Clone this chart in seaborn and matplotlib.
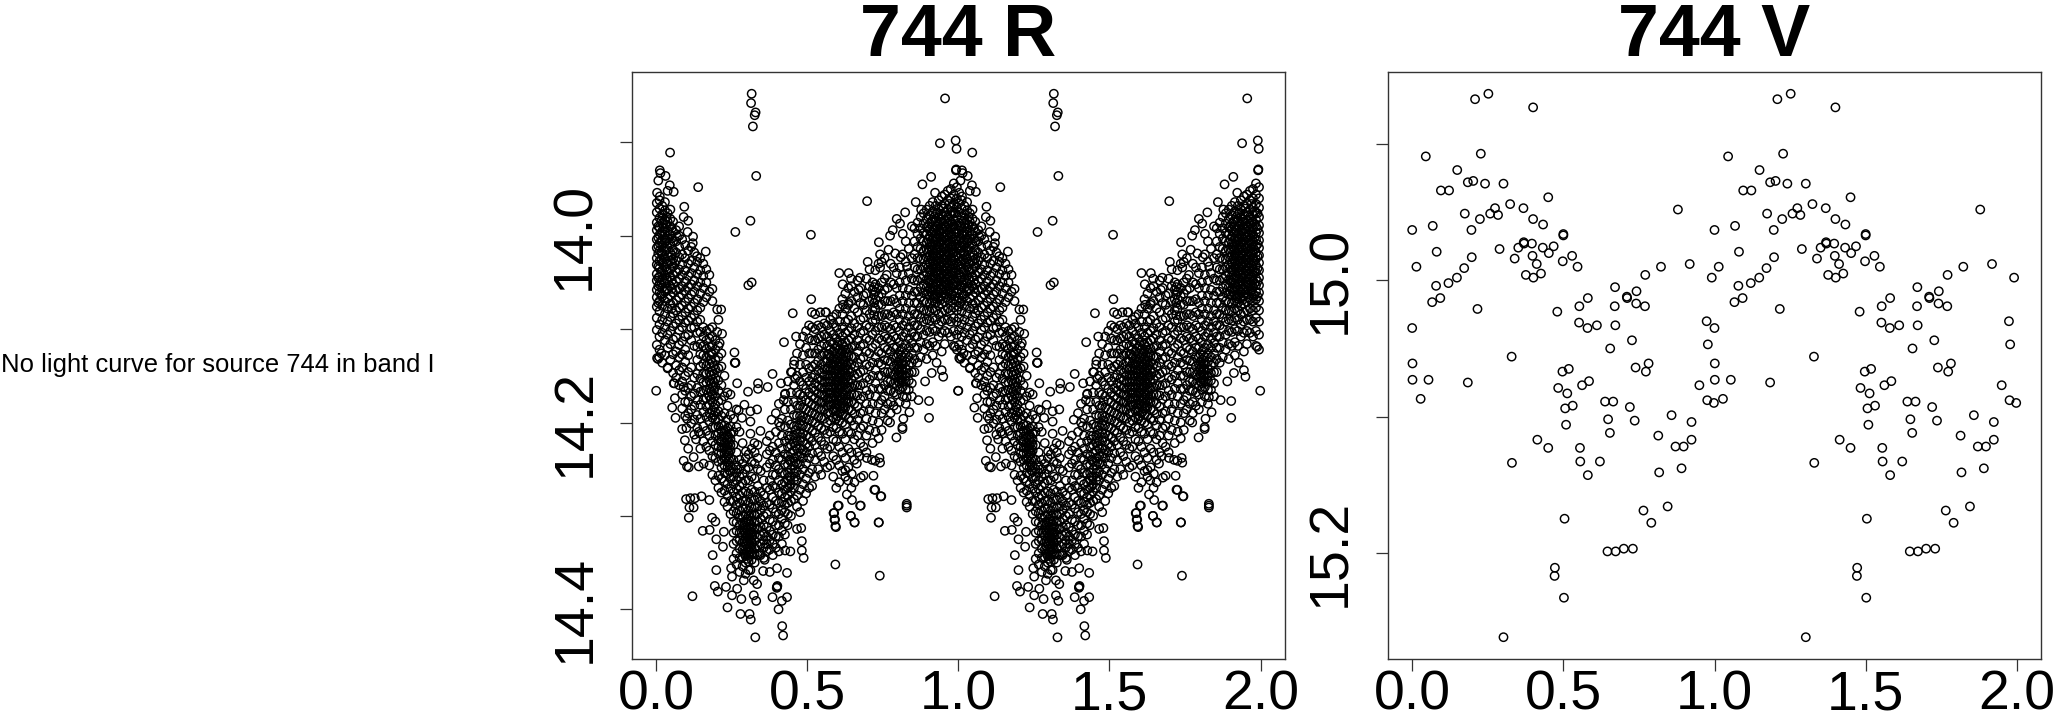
#!/usr/bin/env python3
# -*- coding: utf-8 -*-
"""Folded light curves of source 744, bands R and V, shown over two cycles."""
#%%
import numpy as np
import pandas as pd
import seaborn as sns
import matplotlib.pyplot as plt

sns.set_style("white")
plt.rcParams["font.family"] = ["Liberation Sans", "DejaVu Sans"]
plt.rcParams["text.color"] = "black"
plt.rcParams["xtick.color"] = "black"
plt.rcParams["ytick.color"] = "black"
plt.rcParams["axes.labelcolor"] = "black"

#%% V band, read point by point
v_phase = [
    .208, .252, .400, .045, .227, .149, .184, .202, .241, .302, .095, .122, .450, .324, .368, .274,
    .258, .284, .174, .879, .400, .224, .433, .068, .000, .196, .500, .500, .369, .370, .396, .351,
    .289, .432, .468, .081, .452, .398, .529, .197, .339, .498, .412, .918, .014, .547, .823, .172,
    .426, .376, .771, .148, .401, .991, .120, .079, .671, .742, .581, .093, .710, .711, .741, .066,
    .553, .670, .770, .216, .480, .552, .974, .580, .611, .672, .000, .727, .978, .655, .329, .001,
    .782, .739, .773, .497, .518, .001, .054, .184, .585, .562, .950, .483, .513, .028, .638, .665,
    .976, .998, .531, .506, .720, .858, .648, .736, .924, .509, .654, .814, .924, .414, .450, .555,
    .871, .898, .556, .621, .330, .891, .581, .817, .845, .765, .504, .791, .730, .700, .673, .646,
    .472, .471, .502, .302,
]
v_mag = [
    14.867, 14.863, 14.873, 14.909, 14.907, 14.919, 14.928, 14.927, 14.929, 14.929, 14.934, 14.934,
    14.939, 14.944, 14.947, 14.947, 14.951, 14.952, 14.951, 14.948, 14.955, 14.955, 14.959, 14.960,
    14.963, 14.963, 14.966, 14.967, 14.972, 14.973, 14.973, 14.976, 14.977, 14.976, 14.975, 14.979,
    14.980, 14.982, 14.982, 14.983, 14.984, 14.986, 14.988, 14.988, 14.990, 14.990, 14.990, 14.991,
    14.995, 14.996, 14.996, 14.998, 14.998, 14.998, 15.002, 15.004, 15.005, 15.008, 15.013, 15.013,
    15.012, 15.013, 15.017, 15.016, 15.019, 15.019, 15.019, 15.021, 15.023, 15.031, 15.030, 15.035,
    15.033, 15.033, 15.035, 15.044, 15.047, 15.050, 15.056, 15.061, 15.061, 15.064, 15.067, 15.067,
    15.065, 15.073, 15.073, 15.075, 15.074, 15.077, 15.077, 15.079, 15.083, 15.087, 15.089, 15.089,
    15.088, 15.090, 15.092, 15.094, 15.093, 15.099, 15.102, 15.103, 15.104, 15.106, 15.112, 15.114,
    15.117, 15.117, 15.123, 15.123, 15.122, 15.122, 15.133, 15.133, 15.134, 15.138, 15.143, 15.141,
    15.166, 15.169, 15.175, 15.178, 15.197, 15.197, 15.199, 15.199, 15.211, 15.217, 15.233, 15.262,
]

#%% R band, isolated points read one by one
r_phase = [
    .316, .314, .329, .326, .320, .331, .312, .262, .512, .316, .305, .956, .939, .991, .994, .992,
    .993, .046, .139, .014, .031, .007, .012, .045, .038, .058, .003, .012, .093, .091, .106, .076,
    .104, .122, .121, .069, .164, .186, .135, .202, .215, .206, .218, .202, .210, .452, .513, .515,
    .526, .543, .562, .585, .463, .423, .259, .260, .262, .698, .910, .881, .923, .859, .877, .824,
    .796, .807, .783, .774, .816, .846, .737, .700, .741, .769, .791, .809, .606, .637, .617, .645,
    .675, .741, .618, .637, .670, .686, .725, .763, .830, .560, .950, .999, .928, .912, .945, .890,
    .903, .903, .868, .838, .818, .815, .815, .795, .774, .736, .829, .739, .741, .725, .714, .697,
    .673, .664, .719, .686, .677, .647, .635, .626, .725, .745, .675, .648, .631, .604, .644, .589,
    .590, .595, .657, .736, .829, .829, .593, .740, .120, .000, .006, .058, .091, .062, .053, .086,
    .064, .102, .086, .100, .141, .095, .132, .106, .146, .124, .091, .102, .141, .157, .108, .099,
    .113, .128, .150, .110, .124, .176, .108, .185, .196, .154, .177, .224, .199, .221, .187, .199,
    .194, .204, .231, .251, .268, .236, .282, .279, .309, .313, .328, .417, .420, .405, .416, .433,
    .385, .331, .323, .334, .400, .401, .399, .251, .248, .290, .323, .312, .354, .376, .400, .433,
    .488, .482, .482, .444, .427, .359, .345, .466, .480, .435, .593, .592, .587, .601, .644, .656,
    .737, .677, .829, .722, .743, .413, .385, .449, .457, .460, .337, .369, .268, .262, .304, .337,
    .427, .422, .382, .411, .345, .312, .325, .292, .334, .312, .312, .273, .284, .297, .017, .003,
    .989, .010, .038, .060,
]
r_mag = [
    13.848, 13.858, 13.868, 13.871, 13.883, 13.936, 13.984, 13.996, 13.999, 14.050, 14.053, 13.853,
    13.901, 13.898, 13.907, 13.930, 13.929, 13.911, 13.948, 13.933, 13.936, 13.941, 13.930, 13.946,
    13.952, 13.953, 13.954, 13.958, 13.969, 13.980, 13.984, 13.990, 13.996, 14.001, 14.008, 14.001,
    14.017, 14.057, 14.022, 14.079, 14.079, 14.090, 14.105, 14.103, 14.115, 14.083, 14.068, 14.082,
    14.084, 14.082, 14.082, 14.087, 14.108, 14.114, 14.125, 14.136, 14.136, 13.963, 13.937, 13.945,
    13.954, 13.964, 13.972, 13.975, 13.982, 13.987, 13.994, 14.000, 13.998, 13.990, 14.007, 14.028,
    14.020, 14.015, 14.019, 14.023, 14.040, 14.040, 14.052, 14.046, 14.045, 14.034, 14.074, 14.072,
    14.058, 14.064, 14.037, 14.042, 14.033, 14.082, 14.151, 14.166, 14.136, 14.147, 14.144, 14.156,
    14.177, 14.195, 14.176, 14.189, 14.196, 14.205, 14.207, 14.216, 14.200, 14.217, 14.173, 14.238,
    14.243, 14.241, 14.240, 14.238, 14.236, 14.244, 14.257, 14.257, 14.259, 14.255, 14.262, 14.251,
    14.272, 14.279, 14.289, 14.283, 14.277, 14.289, 14.300, 14.297, 14.304, 14.312, 14.307, 14.307,
    14.289, 14.291, 14.352, 14.364, 14.386, 14.166, 14.132, 14.158, 14.162, 14.174, 14.184, 14.185,
    14.195, 14.196, 14.207, 14.206, 14.210, 14.219, 14.218, 14.228, 14.228, 14.237, 14.241, 14.247,
    14.247, 14.244, 14.248, 14.282, 14.281, 14.281, 14.279, 14.291, 14.291, 14.283, 14.302, 14.302,
    14.306, 14.316, 14.315, 14.317, 14.325, 14.333, 14.342, 14.358, 14.375, 14.381, 14.376, 14.385,
    14.378, 14.398, 14.389, 14.405, 14.405, 14.411, 14.430, 14.418, 14.428, 14.400, 14.391, 14.387,
    14.387, 14.391, 14.385, 14.373, 14.376, 14.375, 14.377, 14.365, 14.356, 14.369, 14.369, 14.358,
    14.359, 14.360, 14.356, 14.361, 14.345, 14.337, 14.327, 14.338, 14.337, 14.347, 14.342, 14.314,
    14.313, 14.310, 14.311, 14.304, 14.297, 14.289, 14.300, 14.307, 14.307, 14.289, 14.287, 14.272,
    14.279, 14.158, 14.148, 14.146, 14.134, 14.153, 14.158, 14.162, 14.158, 14.136, 14.167, 14.164,
    14.169, 14.176, 14.197, 14.204, 14.209, 14.212, 14.222, 14.181, 14.186, 14.188, 14.199, 14.187,
    14.195, 14.231, 14.126, 14.131, 14.119, 14.130, 14.142, 14.158,
]

#%% R band, crowded areas: rings estimated by eye, phase -> magnitudes
r_rise_band = {  # phase 0 to 0.1
    .002: [13.965, 13.975, 13.986, 13.994, 14.004, 14.013, 14.024, 14.031, 14.041, 14.048, 14.058, 14.066, 14.076, 14.088, 14.101, 14.117],
    .011: [13.962, 13.971, 13.981, 13.991, 13.999, 14.008, 14.016, 14.027, 14.035, 14.044, 14.052, 14.061, 14.07, 14.081, 14.095, 14.108, 14.122],
    .02: [13.968, 13.977, 13.987, 13.995, 14.004, 14.011, 14.021, 14.029, 14.037, 14.047, 14.056, 14.065, 14.075, 14.09, 14.104, 14.136],
    .029: [13.964, 13.973, 13.983, 13.992, 13.999, 14.007, 14.017, 14.025, 14.034, 14.042, 14.051, 14.06, 14.07, 14.084, 14.098, 14.112, 14.128],
    .038: [13.976, 13.985, 13.995, 14.003, 14.012, 14.022, 14.03, 14.039, 14.048, 14.057, 14.067, 14.078, 14.092, 14.106, 14.12, 14.141],
    .047: [13.972, 13.982, 13.99, 13.999, 14.009, 14.018, 14.027, 14.036, 14.044, 14.054, 14.064, 14.073, 14.087, 14.102, 14.116, 14.133],
    .056: [13.985, 13.996, 14.006, 14.015, 14.025, 14.033, 14.042, 14.052, 14.061, 14.072, 14.083, 14.097, 14.111, 14.127, 14.147],
    .066: [13.994, 14.006, 14.018, 14.027, 14.039, 14.049, 14.058, 14.069, 14.08, 14.094, 14.109, 14.124, 14.139, 14.152],
    .076: [14.0, 14.012, 14.023, 14.036, 14.046, 14.057, 14.066, 14.077, 14.09, 14.101, 14.117, 14.13, 14.144, 14.16],
    .086: [14.004, 14.02, 14.031, 14.042, 14.054, 14.063, 14.075, 14.086, 14.098, 14.113, 14.127, 14.141, 14.156, 14.17],
    .096: [14.01, 14.024, 14.037, 14.049, 14.059, 14.071, 14.082, 14.093, 14.108, 14.122, 14.135, 14.15, 14.166, 14.178, 14.193],
}
r_stripe_b = {  # phase 0.1 to 0.24
    .106: [14.016, 14.03, 14.043, 14.055, 14.067, 14.078, 14.091, 14.106, 14.128, 14.146, 14.163, 14.178, 14.19],
    .116: [14.012, 14.027, 14.04, 14.052, 14.063, 14.076, 14.088, 14.099, 14.112, 14.141, 14.16, 14.172, 14.186, 14.201],
    .126: [14.018, 14.034, 14.048, 14.06, 14.072, 14.085, 14.098, 14.118, 14.152, 14.169, 14.182, 14.197, 14.213],
    .136: [14.028, 14.041, 14.054, 14.068, 14.08, 14.092, 14.104, 14.119, 14.133, 14.148, 14.163, 14.176, 14.192, 14.206],
    .146: [14.024, 14.037, 14.05, 14.062, 14.077, 14.09, 14.103, 14.116, 14.127, 14.14, 14.153, 14.167, 14.181, 14.196, 14.212],
    .156: [14.03, 14.043, 14.056, 14.071, 14.098, 14.108, 14.118, 14.128, 14.137, 14.147, 14.157, 14.166, 14.176, 14.189, 14.204, 14.22],
    .166: [14.036, 14.05, 14.066, 14.102, 14.112, 14.121, 14.13, 14.139, 14.148, 14.157, 14.165, 14.174, 14.183, 14.194, 14.209, 14.226],
    .176: [14.042, 14.06, 14.1, 14.11, 14.119, 14.128, 14.137, 14.146, 14.155, 14.164, 14.172, 14.181, 14.19, 14.199, 14.214, 14.23, 14.246],
    .186: [14.07, 14.098, 14.108, 14.118, 14.127, 14.136, 14.145, 14.154, 14.162, 14.17, 14.178, 14.187, 14.195, 14.205, 14.22, 14.236, 14.256],
    .196: [14.112, 14.122, 14.133, 14.143, 14.153, 14.162, 14.172, 14.181, 14.189, 14.197, 14.205, 14.214, 14.224, 14.238, 14.262],
    .206: [14.118, 14.13, 14.142, 14.155, 14.166, 14.177, 14.188, 14.197, 14.204, 14.211, 14.219, 14.226, 14.233, 14.242, 14.257, 14.27],
    .216: [14.126, 14.14, 14.16, 14.176, 14.193, 14.202, 14.209, 14.215, 14.221, 14.227, 14.233, 14.24, 14.248, 14.26, 14.275],
    .226: [14.15, 14.172, 14.19, 14.203, 14.21, 14.216, 14.222, 14.227, 14.233, 14.239, 14.246, 14.254, 14.263, 14.273, 14.285],
    .236: [14.168, 14.182, 14.197, 14.206, 14.213, 14.218, 14.224, 14.229, 14.235, 14.242, 14.248, 14.255, 14.266, 14.278, 14.29],
    .246: [14.17, 14.192, 14.204, 14.212, 14.218, 14.224, 14.23, 14.238, 14.246, 14.253, 14.26, 14.271, 14.284, 14.298],
}
r_dip_d = {  # phase 0.25 to 0.42
    .256: [14.196, 14.21, 14.224, 14.24, 14.25, 14.258, 14.266, 14.275, 14.284, 14.295, 14.306, 14.318, 14.33, 14.346],
    .266: [14.186, 14.205, 14.232, 14.246, 14.254, 14.262, 14.271, 14.28, 14.288, 14.297, 14.307, 14.316, 14.327, 14.34, 14.352],
    .276: [14.21, 14.24, 14.25, 14.258, 14.268, 14.278, 14.286, 14.294, 14.302, 14.31, 14.318, 14.326, 14.335, 14.345, 14.36],
    .286: [14.222, 14.244, 14.255, 14.265, 14.275, 14.284, 14.292, 14.3, 14.307, 14.314, 14.321, 14.328, 14.336, 14.344, 14.354],
    .296: [14.238, 14.25, 14.262, 14.274, 14.284, 14.292, 14.299, 14.306, 14.312, 14.318, 14.324, 14.33, 14.336, 14.343, 14.35, 14.362],
    .306: [14.234, 14.248, 14.262, 14.276, 14.286, 14.294, 14.3, 14.306, 14.312, 14.318, 14.324, 14.33, 14.336, 14.342, 14.349, 14.358],
    .316: [14.228, 14.242, 14.258, 14.272, 14.282, 14.291, 14.298, 14.305, 14.311, 14.317, 14.323, 14.329, 14.335, 14.341, 14.347],
    .326: [14.232, 14.244, 14.26, 14.274, 14.283, 14.291, 14.299, 14.306, 14.313, 14.32, 14.327, 14.334, 14.341, 14.35],
    .336: [14.224, 14.238, 14.25, 14.268, 14.28, 14.29, 14.298, 14.306, 14.314, 14.323, 14.332, 14.342],
    .346: [14.252, 14.274, 14.284, 14.294, 14.303, 14.312, 14.321, 14.33, 14.34],
    .356: [14.262, 14.278, 14.289, 14.3, 14.31, 14.318, 14.326, 14.334, 14.345],
    .366: [14.22, 14.234, 14.248, 14.27, 14.286, 14.298, 14.312, 14.322, 14.33, 14.338],
    .376: [14.214, 14.23, 14.244, 14.262, 14.272, 14.288, 14.304, 14.316, 14.326, 14.336],
    .386: [14.226, 14.24, 14.256, 14.268, 14.28, 14.292, 14.306, 14.32, 14.33, 14.342],
    .396: [14.19, 14.21, 14.232, 14.246, 14.256, 14.27, 14.284, 14.296, 14.31, 14.322, 14.334],
    .406: [14.18, 14.2, 14.222, 14.238, 14.25, 14.262, 14.275, 14.286, 14.298, 14.31, 14.322, 14.338],
    .416: [14.196, 14.214, 14.228, 14.24, 14.254, 14.266, 14.276, 14.285, 14.294, 14.303, 14.316, 14.33],
}
r_stripe_e = {  # phase 0.42 to 0.7
    .426: [14.17, 14.186, 14.204, 14.22, 14.234, 14.245, 14.255, 14.264, 14.272, 14.28, 14.288, 14.296, 14.308, 14.32],
    .436: [14.156, 14.178, 14.198, 14.214, 14.226, 14.236, 14.245, 14.254, 14.262, 14.27, 14.278, 14.286, 14.298],
    .446: [14.146, 14.168, 14.186, 14.202, 14.214, 14.224, 14.233, 14.242, 14.25, 14.258, 14.266, 14.274, 14.284, 14.3],
    .456: [14.138, 14.16, 14.178, 14.192, 14.204, 14.214, 14.222, 14.23, 14.238, 14.246, 14.254, 14.262, 14.27, 14.282],
    .466: [14.126, 14.15, 14.168, 14.182, 14.193, 14.203, 14.212, 14.22, 14.228, 14.236, 14.244, 14.252, 14.262, 14.278, 14.29],
    .476: [14.116, 14.138, 14.156, 14.17, 14.182, 14.193, 14.203, 14.212, 14.22, 14.228, 14.236, 14.245, 14.256, 14.272, 14.296],
    .486: [14.108, 14.128, 14.146, 14.16, 14.172, 14.184, 14.194, 14.203, 14.212, 14.22, 14.229, 14.238, 14.25, 14.266, 14.284],
    .496: [14.102, 14.12, 14.138, 14.152, 14.164, 14.176, 14.186, 14.196, 14.205, 14.214, 14.223, 14.232, 14.244, 14.26, 14.276],
    .506: [14.096, 14.11, 14.126, 14.142, 14.156, 14.168, 14.178, 14.188, 14.197, 14.206, 14.216, 14.226, 14.238, 14.254, 14.27],
    .516: [14.098, 14.112, 14.126, 14.14, 14.152, 14.163, 14.172, 14.181, 14.19, 14.199, 14.209, 14.22, 14.233, 14.25, 14.268],
    .526: [14.1, 14.112, 14.126, 14.138, 14.149, 14.158, 14.166, 14.174, 14.182, 14.191, 14.2, 14.211, 14.224, 14.24, 14.258],
    .536: [14.096, 14.11, 14.122, 14.134, 14.144, 14.153, 14.161, 14.169, 14.177, 14.185, 14.194, 14.204, 14.216, 14.232, 14.25],
    .546: [14.098, 14.108, 14.118, 14.128, 14.138, 14.147, 14.155, 14.163, 14.17, 14.178, 14.186, 14.195, 14.206, 14.22, 14.236, 14.256],
    .556: [14.094, 14.106, 14.116, 14.126, 14.135, 14.143, 14.15, 14.157, 14.164, 14.171, 14.178, 14.186, 14.196, 14.208, 14.224, 14.242],
    .566: [14.096, 14.108, 14.118, 14.127, 14.135, 14.142, 14.149, 14.156, 14.162, 14.168, 14.175, 14.182, 14.19, 14.2, 14.212, 14.228, 14.248],
    .576: [14.09, 14.102, 14.113, 14.122, 14.13, 14.137, 14.144, 14.15, 14.156, 14.162, 14.168, 14.174, 14.181, 14.189, 14.198, 14.21, 14.226, 14.246],
    .586: [14.094, 14.106, 14.116, 14.124, 14.131, 14.138, 14.144, 14.15, 14.156, 14.162, 14.168, 14.174, 14.18, 14.187, 14.195, 14.205, 14.218, 14.236, 14.258],
    .596: [14.084, 14.098, 14.11, 14.119, 14.126, 14.133, 14.139, 14.145, 14.151, 14.157, 14.163, 14.169, 14.175, 14.181, 14.188, 14.196, 14.206, 14.22, 14.24, 14.27],
    .606: [14.078, 14.092, 14.104, 14.114, 14.122, 14.129, 14.135, 14.141, 14.147, 14.153, 14.159, 14.165, 14.171, 14.177, 14.183, 14.19, 14.198, 14.21, 14.226, 14.246, 14.264],
    .616: [14.068, 14.084, 14.098, 14.108, 14.116, 14.124, 14.131, 14.137, 14.143, 14.149, 14.155, 14.161, 14.167, 14.173, 14.179, 14.185, 14.192, 14.2, 14.212, 14.232, 14.252],
    .626: [14.062, 14.078, 14.092, 14.104, 14.114, 14.122, 14.129, 14.135, 14.141, 14.147, 14.153, 14.159, 14.165, 14.171, 14.177, 14.184, 14.192, 14.202, 14.218, 14.238, 14.258],
    .636: [14.056, 14.074, 14.09, 14.102, 14.112, 14.121, 14.129, 14.136, 14.143, 14.15, 14.157, 14.164, 14.171, 14.178, 14.186, 14.196, 14.21, 14.228, 14.248],
    .646: [14.054, 14.07, 14.086, 14.099, 14.11, 14.12, 14.129, 14.138, 14.146, 14.154, 14.162, 14.17, 14.178, 14.187, 14.198, 14.212, 14.232, 14.27],
    .656: [14.06, 14.078, 14.094, 14.106, 14.118, 14.13, 14.14, 14.15, 14.16, 14.17, 14.18, 14.191, 14.203, 14.218, 14.24, 14.264],
    .666: [14.048, 14.066, 14.082, 14.098, 14.112, 14.124, 14.136, 14.148, 14.16, 14.171, 14.183, 14.197, 14.214, 14.232],
    .676: [14.056, 14.072, 14.09, 14.104, 14.118, 14.132, 14.146, 14.16, 14.175, 14.19, 14.206, 14.222],
    .686: [14.074, 14.088, 14.102, 14.116, 14.13, 14.144, 14.158, 14.172, 14.188, 14.204, 14.226],
    .696: [14.046, 14.062, 14.08, 14.096, 14.11, 14.124, 14.138, 14.152, 14.166, 14.18, 14.196, 14.214, 14.232],
}
r_hump_f = {  # phase 0.7 to 0.85
    .706: [14.036, 14.054, 14.07, 14.084, 14.098, 14.112, 14.126, 14.14, 14.154, 14.17, 14.186, 14.208],
    .716: [14.05, 14.058, 14.068, 14.08, 14.092, 14.106, 14.12, 14.136, 14.15, 14.164, 14.18, 14.198, 14.222],
    .726: [14.052, 14.06, 14.068, 14.078, 14.09, 14.102, 14.116, 14.13, 14.144, 14.158, 14.172, 14.19, 14.21],
    .736: [14.03, 14.056, 14.065, 14.074, 14.086, 14.098, 14.11, 14.124, 14.136, 14.15, 14.164, 14.18, 14.2],
    .746: [14.028, 14.05, 14.062, 14.074, 14.086, 14.098, 14.112, 14.126, 14.138, 14.15, 14.164, 14.176, 14.19, 14.208],
    .756: [14.024, 14.046, 14.058, 14.07, 14.084, 14.096, 14.108, 14.12, 14.133, 14.146, 14.16, 14.172, 14.186],
    .766: [14.056, 14.07, 14.084, 14.098, 14.11, 14.122, 14.134, 14.146, 14.156, 14.166, 14.18, 14.198],
    .776: [14.03, 14.05, 14.07, 14.086, 14.1, 14.112, 14.124, 14.135, 14.146, 14.156, 14.166, 14.178, 14.19],
    .786: [14.034, 14.052, 14.068, 14.082, 14.096, 14.108, 14.12, 14.13, 14.14, 14.149, 14.158, 14.168, 14.182],
    .796: [14.04, 14.056, 14.072, 14.084, 14.098, 14.11, 14.12, 14.13, 14.138, 14.145, 14.152, 14.16, 14.17, 14.186],
    .806: [14.034, 14.05, 14.064, 14.078, 14.09, 14.102, 14.114, 14.124, 14.133, 14.14, 14.146, 14.152, 14.158, 14.165, 14.178],
    .816: [14.02, 14.042, 14.056, 14.07, 14.084, 14.096, 14.108, 14.12, 14.13, 14.138, 14.144, 14.15, 14.156, 14.162, 14.172],
    .826: [14.006, 14.028, 14.048, 14.064, 14.078, 14.092, 14.104, 14.116, 14.126, 14.135, 14.143, 14.15, 14.156, 14.165, 14.18],
    .836: [14.014, 14.04, 14.058, 14.072, 14.086, 14.098, 14.11, 14.12, 14.13, 14.139, 14.147, 14.155, 14.165],
    .846: [14.024, 14.046, 14.064, 14.08, 14.092, 14.104, 14.115, 14.126, 14.136, 14.146, 14.158, 14.172],
}
r_peak_g = {  # phase 0.85 to 1
    .855: [13.992, 14.006, 14.02, 14.034, 14.048, 14.06, 14.072, 14.084, 14.096, 14.108, 14.12, 14.132, 14.146],
    .865: [13.986, 13.998, 14.012, 14.024, 14.036, 14.048, 14.06, 14.072, 14.084, 14.096, 14.108, 14.12, 14.136],
    .875: [13.98, 13.992, 14.003, 14.014, 14.025, 14.036, 14.046, 14.056, 14.066, 14.077, 14.088, 14.1, 14.114, 14.13],
    .885: [13.976, 13.987, 13.997, 14.006, 14.016, 14.025, 14.034, 14.043, 14.052, 14.061, 14.07, 14.08, 14.092, 14.106, 14.122],
    .895: [13.972, 13.982, 13.991, 13.999, 14.007, 14.015, 14.023, 14.031, 14.039, 14.047, 14.055, 14.063, 14.071, 14.08, 14.09, 14.102, 14.116, 14.132],
    .905: [13.968, 13.978, 13.987, 13.994, 14.001, 14.008, 14.015, 14.022, 14.029, 14.036, 14.043, 14.05, 14.057, 14.064, 14.072, 14.081, 14.091, 14.103, 14.118],
    .915: [13.964, 13.974, 13.983, 13.99, 13.997, 14.003, 14.009, 14.015, 14.021, 14.027, 14.033, 14.039, 14.045, 14.051, 14.057, 14.063, 14.07, 14.078, 14.088, 14.1, 14.114, 14.128],
    .925: [13.968, 13.977, 13.985, 13.992, 13.998, 14.004, 14.01, 14.016, 14.022, 14.028, 14.034, 14.04, 14.046, 14.052, 14.058, 14.065, 14.072, 14.08, 14.09, 14.102, 14.118],
    .935: [13.962, 13.972, 13.981, 13.988, 13.994, 14.0, 14.006, 14.012, 14.018, 14.024, 14.03, 14.036, 14.042, 14.048, 14.054, 14.06, 14.067, 14.075, 14.084, 14.095, 14.108],
    .945: [13.958, 13.968, 13.977, 13.985, 13.992, 13.998, 14.004, 14.01, 14.016, 14.022, 14.028, 14.034, 14.04, 14.046, 14.052, 14.058, 14.065, 14.073, 14.082, 14.092, 14.104, 14.124],
    .955: [13.956, 13.966, 13.975, 13.983, 13.99, 13.996, 14.002, 14.008, 14.014, 14.02, 14.026, 14.032, 14.038, 14.044, 14.05, 14.056, 14.063, 14.071, 14.08, 14.09, 14.102, 14.116],
    .965: [13.952, 13.962, 13.972, 13.98, 13.987, 13.993, 13.999, 14.005, 14.011, 14.017, 14.023, 14.029, 14.035, 14.041, 14.047, 14.053, 14.06, 14.068, 14.078, 14.09, 14.104],
    .975: [13.95, 13.96, 13.97, 13.978, 13.985, 13.992, 13.999, 14.006, 14.012, 14.018, 14.024, 14.03, 14.036, 14.042, 14.048, 14.055, 14.062, 14.07, 14.08, 14.092, 14.108],
    .985: [13.944, 13.956, 13.966, 13.975, 13.983, 13.99, 13.997, 14.004, 14.011, 14.018, 14.025, 14.032, 14.039, 14.046, 14.053, 14.06, 14.068, 14.077, 14.088, 14.102, 14.118],
    .995: [13.948, 13.96, 13.97, 13.98, 13.989, 13.997, 14.005, 14.013, 14.021, 14.029, 14.037, 14.045, 14.053, 14.061, 14.07, 14.08, 14.092, 14.106, 14.122],
}
r_black_spots = {  # second pass over the areas that print solid black
    .007: [13.99, 14.002, 14.011, 14.019, 14.033, 14.045, 14.054, 14.072],
    .017: [13.984, 13.997, 14.006, 14.018, 14.026, 14.039, 14.05, 14.063],
    .034: [13.98, 13.988, 14.005, 14.015, 14.028, 14.036, 14.046, 14.059],
    .052: [13.992, 14.003, 14.021, 14.03, 14.048, 14.057, 14.078],
    .181: [14.125, 14.133, 14.149, 14.158, 14.167, 14.175],
    .191: [14.139, 14.148, 14.157, 14.166, 14.184, 14.192],
    .231: [14.208, 14.214, 14.225, 14.231, 14.237],
    .241: [14.216, 14.222, 14.233, 14.24, 14.251],
    .291: [14.31, 14.317, 14.327, 14.333, 14.34],
    .301: [14.304, 14.315, 14.321, 14.327, 14.339, 14.346],
    .311: [14.309, 14.32, 14.326, 14.333, 14.339],
    .441: [14.218, 14.24, 14.258, 14.268],
    .461: [14.208, 14.225, 14.242, 14.258],
    .481: [14.177, 14.198, 14.216, 14.233],
    .571: [14.127, 14.14, 14.153, 14.165, 14.178],
    .591: [14.121, 14.135, 14.147, 14.159, 14.171, 14.185],
    .601: [14.117, 14.131, 14.143, 14.155, 14.168, 14.18, 14.193],
    .611: [14.126, 14.138, 14.15, 14.162, 14.175, 14.188],
    .621: [14.119, 14.133, 14.145, 14.157, 14.169, 14.182],
    .631: [14.125, 14.139, 14.151, 14.163, 14.175],
    .721: [14.055, 14.063, 14.072, 14.085],
    .801: [14.127, 14.135, 14.142, 14.149, 14.156],
    .811: [14.128, 14.137, 14.143, 14.149, 14.155],
    .9: [13.99, 14.004, 14.018, 14.034, 14.048, 14.06],
    .91: [13.985, 13.996, 14.012, 14.025, 14.037, 14.047, 14.06],
    .92: [13.98, 13.994, 14.006, 14.019, 14.031, 14.043, 14.055, 14.067],
    .93: [13.975, 13.99, 14.002, 14.014, 14.027, 14.038, 14.05, 14.063],
    .94: [13.982, 13.995, 14.007, 14.02, 14.032, 14.045, 14.057, 14.069],
    .95: [13.971, 13.987, 14.001, 14.013, 14.025, 14.037, 14.049, 14.061],
    .96: [13.978, 13.991, 14.005, 14.017, 14.029, 14.041, 14.053, 14.066],
    .97: [13.966, 13.983, 13.996, 14.009, 14.02, 14.032, 14.044, 14.058],
    .98: [13.974, 13.988, 14.002, 14.015, 14.027, 14.039, 14.051, 14.064],
    .99: [13.976, 13.993, 14.009, 14.022, 14.035, 14.049, 14.065],
}


def flatten(*regions):
    # one row per ring
    rows = [(p, m) for region in regions for p, mags in region.items() for m in mags]
    return [r[0] for r in rows], [r[1] for r in rows]


crowd_phase, crowd_mag = flatten(r_rise_band, r_stripe_b, r_dip_d, r_stripe_e, r_hump_f, r_peak_g, r_black_spots)
r_phase = r_phase + crowd_phase
r_mag = r_mag + crowd_mag

sheet_r = pd.DataFrame({"phase": r_phase + [p + 1 for p in r_phase], "mag": r_mag + r_mag})
sheet_v = pd.DataFrame({"phase": v_phase + [p + 1 for p in v_phase], "mag": v_mag + v_mag})

#%%
W, H = 2056, 713
fig = plt.figure(figsize=(W / 100, H / 100), dpi=100, facecolor="white")


def panel(left, right, sheet, title, ylim, yticks, ylabels):
    top, bottom = 71.7, 659.0
    ax = fig.add_axes([left / W, 1 - bottom / H, (right - left) / W, (bottom - top) / H])
    sns.scatterplot(data=sheet, x="phase", y="mag", ax=ax, s=36, linewidth=1.05,
                    edgecolor="black", legend=False, clip_on=False)
    ax.collections[-1].set_facecolor("none")
    ax.collections[-1].set_edgecolor("black")
    ax.set_xlim(-0.08, 2.08)
    ax.set_ylim(ylim)
    ax.set_xticks([0, 0.5, 1, 1.5, 2], ["0.0", "0.5", "1.0", "1.5", "2.0"], fontsize=40)
    ax.set_yticks(yticks, ylabels, fontsize=40, rotation=90, va="center")
    ax.tick_params(axis="x", length=8.3, width=0.9, color="#333333", pad=-0.5, bottom=True)
    ax.tick_params(axis="y", length=8.6, width=0.9, color="#333333", pad=13.5, left=True)
    ax.set_xlabel("")
    ax.set_ylabel("")
    ax.set_title(title, fontsize=53, fontweight="bold", pad=11)
    for spine in ax.spines.values():
        spine.set_linewidth(1.0)
        spine.set_color("#333333")
    return ax


panel(632, 1284.7, sheet_r, "744 R", (14.4532, 13.8244),
      [13.9, 14.0, 14.1, 14.2, 14.3, 14.4], ["", "14.0", "", "14.2", "", "14.4"])
panel(1388, 2041, sheet_v, "744 V", (15.278, 14.8468),
      [14.9, 15.0, 15.1, 15.2], ["", "15.0", "", "15.2"])

fig.text(1 / W, 1 - 372 / H, "No light curve for source 744 in band I", fontsize=18.45,
         ha="left", va="baseline", color="black")

plt.savefig("out.png")
plt.close()
